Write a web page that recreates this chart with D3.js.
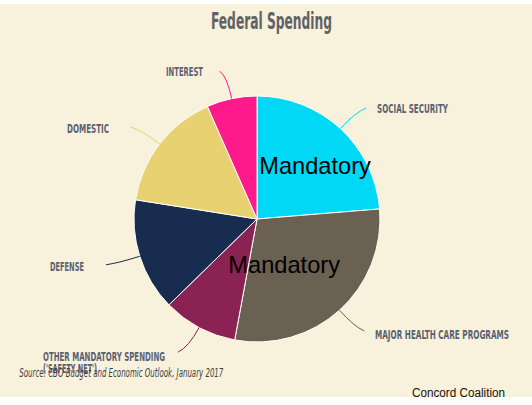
<!DOCTYPE html>
<html>
<head>
<meta charset="utf-8">
<script src="https://cdn.jsdelivr.net/npm/d3@7"></script>
<style>
  html, body { margin: 0; padding: 0; background: #ffffff; }
  svg { display: block; }
</style>
</head>
<body>
<svg id="chart" width="532" height="405"></svg>
<script>
// ---- data ----
const categories = ["SOCIAL SECURITY", "MAJOR HEALTH CARE PROGRAMS", "OTHER MANDATORY SPENDING\n('SAFETY NET')", "DEFENSE", "DOMESTIC", "INTEREST"];
const values = [23.7, 29.2, 9.8, 14.8, 15.9, 6.6];
const colors = ["#00D8F6", "#6A6152", "#8A2253", "#172C4E", "#E8D170", "#FF1A8C"];
const overlayLabels = ["Mandatory", "Mandatory"];
const titleText = "Federal Spending";
const sourceText = "Source: CBO Budget and Economic Outlook, January 2017";
const creditText = "Concord Coalition";

// ---- layout ----
const W = 532, H = 405;
const cx = 257, cy = 219, R = 123;
// label layout: [x, y(baseline), anchor, textLength, endDx]
const labelLayout = [
  {x: 377, y: 112.5, anchor: "start", len: 71, dx: 7},
  {x: 375, y: 339.3, anchor: "start", len: 134, dx: 6},
  {x: 43, y: 360.7, anchor: "start", len: 122, dx: -8},
  {x: 84, y: 270.7, anchor: "end", len: 34, dx: -7},
  {x: 109, y: 132.7, anchor: "end", len: 42, dx: -7},
  {x: 203, y: 75.7, anchor: "end", len: 37, dx: -6}
];
const condensed = "'Liberation Sans Narrow', 'DejaVu Sans Condensed', 'Roboto Condensed', sans-serif";

const svg = d3.select("#chart");

// background
svg.append("rect").attr("x", 0).attr("y", 4).attr("width", W).attr("height", 393).attr("fill", "#F8F1DB");

// title
svg.append("text")
  .attr("x", 271.5).attr("y", 29.3)
  .attr("text-anchor", "middle")
  .attr("font-family", condensed)
  .attr("font-weight", "bold")
  .attr("font-size", 23)
  .attr("fill", "#606266")
  .attr("textLength", 121)
  .attr("lengthAdjust", "spacingAndGlyphs")
  .text(titleText);

const pie = d3.pie().sort(null).value(d => d)(values);
const arc = d3.arc().innerRadius(0).outerRadius(R);

const g = svg.append("g").attr("transform", `translate(${cx},${cy})`);
g.selectAll("path.slice")
  .data(pie)
  .join("path")
  .attr("class", "slice")
  .attr("d", arc)
  .attr("fill", (d, i) => colors[i])
  .attr("stroke", "#ffffff")
  .attr("stroke-width", 1)
  .attr("stroke-linejoin", "round");

// leader lines
pie.forEach((d, i) => {
  const a = (d.startAngle + d.endAngle) / 2;
  const sx = Math.sin(a), sy = -Math.cos(a);
  const p0 = [sx * R, sy * R];
  const pc = [sx * (R + 22), sy * (R + 22)];
  const p1 = [sx * (R + 28) + labelLayout[i].dx, sy * (R + 28)];
  const path = d3.path();
  path.moveTo(p0[0], p0[1]);
  path.quadraticCurveTo(pc[0], pc[1], p1[0], p1[1]);
  g.append("path")
    .attr("d", path.toString())
    .attr("fill", "none")
    .attr("stroke", colors[i])
    .attr("stroke-width", 1);
});

// category labels
categories.forEach((c, i) => {
  const L = labelLayout[i];
  const lines = c.split("\n");
  lines.forEach((ln, j) => {
    const t = svg.append("text")
      .attr("x", L.x).attr("y", L.y + j * 12.3)
      .attr("text-anchor", L.anchor)
      .attr("font-family", condensed)
      .attr("font-weight", "bold")
      .attr("font-size", 11.5)
      .attr("fill", "#5A6072")
      .text(ln);
    if (j === 0) t.attr("textLength", L.len).attr("lengthAdjust", "spacingAndGlyphs");
    else t.attr("textLength", 54).attr("lengthAdjust", "spacingAndGlyphs");
  });
});

// overlay "Mandatory" texts
const overlayPos = [[259.3, 174, 111.5], [228.3, 272.7, 111.7]];
overlayLabels.forEach((t, i) => {
  svg.append("text")
    .attr("x", overlayPos[i][0]).attr("y", overlayPos[i][1])
    .attr("font-family", "'Liberation Sans', Arial, sans-serif")
    .attr("font-size", 24)
    .attr("fill", "#000000")
    .attr("textLength", overlayPos[i][2])
    .attr("lengthAdjust", "spacingAndGlyphs")
    .text(t);
});

// source
svg.append("text")
  .attr("x", 19.3).attr("y", 377.3)
  .attr("font-family", condensed)
  .attr("font-style", "italic")
  .attr("font-size", 12)
  .attr("fill", "#3E3E44")
  .attr("textLength", 204)
  .attr("lengthAdjust", "spacingAndGlyphs")
  .text(sourceText);

// credit
svg.append("text")
  .attr("x", 412).attr("y", 396.7)
  .attr("font-family", "'Liberation Sans', Arial, sans-serif")
  .attr("font-size", 12.5)
  .attr("fill", "#111111")
  .attr("textLength", 93)
  .attr("lengthAdjust", "spacingAndGlyphs")
  .text(creditText);
</script>
</body>
</html>
